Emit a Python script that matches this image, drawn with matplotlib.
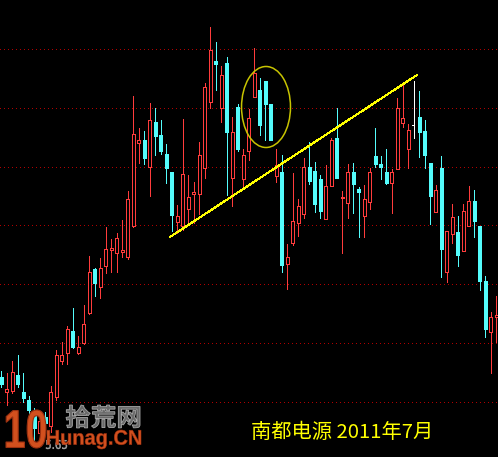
import matplotlib
matplotlib.use("Agg")
import matplotlib.pyplot as plt
from matplotlib.patches import Rectangle, Ellipse, PathPatch
from matplotlib.textpath import TextPath
from matplotlib.font_manager import FontProperties
from matplotlib.transforms import Affine2D

# ---- data (daily OHLC) ----
opens = [6.91, 6.61, 6.63, 6.95, 6.61, 6.45, 6.19, 5.79, 6.11, 5.93,
         6.51, 7.23, 7.39, 7.83, 7.39, 7.59, 8.19, 9.07, 8.71, 9.13,
         9.45, 9.39, 9.41, 9.31, 9.93, 11.59, 11.65, 11.11, 12.01, 11.75,
         11.37, 11.01, 10.01, 9.93, 10.27, 10.57, 10.57, 11.09, 12.41, 13.23,
         12.29, 13.19, 10.89, 12.31, 10.87, 11.43, 12.51, 12.65, 12.83, 12.37,
         10.93, 11.01, 9.17, 9.59, 9.99, 10.17, 11.11, 11.03, 10.87, 10.07,
         10.73, 11.69, 10.49, 10.39, 11.01, 10.67, 10.13, 10.41, 11.33, 11.17,
         11.01, 10.79, 11.07, 11.99, 11.47, 11.95, 12.11, 11.83, 11.19, 10.21,
         11.09, 9.01, 9.77, 9.81, 9.43, 9.93, 10.43, 9.93, 8.83, 7.81, 8.11]
highs = [7.03, 6.99, 7.23, 7.35, 6.99, 6.53, 6.29, 6.09, 6.21, 6.73,
         7.45, 7.61, 7.93, 8.29, 7.73, 8.35, 9.33, 9.09, 9.29, 9.91,
         9.67, 9.79, 10.05, 10.63, 12.53, 11.89, 11.83, 12.39, 12.29, 12.05,
         11.57, 11.01, 10.35, 12.07, 10.95, 10.81, 11.61, 12.79, 13.91, 13.61,
         13.13, 13.31, 12.11, 12.37, 11.47, 12.27, 13.49, 12.89, 12.83, 12.37,
         11.47, 11.35, 9.57, 10.99, 10.47, 11.29, 11.61, 11.21, 10.95, 11.15,
         11.69, 12.29, 10.63, 11.17, 11.19, 10.71, 10.75, 11.09, 11.89, 11.33,
         11.47, 11.07, 12.49, 12.81, 11.97, 12.83, 12.63, 12.05, 11.19, 10.75,
         11.33, 9.83, 10.37, 10.13, 10.37, 10.73, 10.65, 9.93, 8.93, 8.21, 8.53]
lows = [6.71, 6.35, 6.59, 6.71, 6.41, 6.19, 5.65, 5.71, 5.85, 5.81,
        6.45, 7.17, 7.17, 7.49, 7.37, 7.57, 8.17, 8.53, 8.49, 8.99,
        9.01, 9.01, 9.31, 9.27, 9.91, 11.19, 11.17, 10.53, 11.35, 11.37,
        10.79, 9.83, 9.79, 9.85, 9.99, 9.99, 10.17, 10.89, 12.29, 12.65,
        12.01, 10.55, 10.33, 11.43, 10.69, 11.25, 12.51, 11.75, 11.65, 11.65,
        10.81, 9.01, 8.67, 9.55, 9.73, 10.09, 10.77, 10.21, 10.09, 10.07,
        10.73, 10.89, 9.39, 10.09, 10.19, 9.71, 9.71, 10.27, 11.11, 10.87,
        10.77, 10.19, 11.07, 11.91, 11.09, 11.69, 11.31, 11.09, 9.97, 10.21,
        8.91, 8.81, 9.59, 9.13, 9.43, 9.93, 9.71, 8.65, 7.71, 6.99, 7.61]
closes = [6.77, 6.67, 7.01, 6.77, 6.49, 6.25, 5.89, 6.03, 5.99, 6.61,
          7.35, 7.35, 7.87, 7.51, 7.51, 7.97, 9.01, 8.79, 9.09, 9.47,
          9.49, 9.69, 9.45, 10.47, 11.77, 11.65, 11.29, 12.05, 11.73, 11.43,
          11.09, 10.15, 10.13, 10.97, 10.51, 10.61, 11.35, 12.71, 13.45, 13.17,
          12.95, 11.81, 11.81, 11.47, 11.35, 12.09, 12.99, 11.95, 12.37, 11.65,
          11.15, 9.15, 9.31, 10.03, 10.33, 11.11, 10.83, 10.37, 10.23, 10.73,
          11.65, 10.89, 10.51, 11.01, 10.77, 10.61, 10.47, 11.01, 11.17, 11.11,
          10.79, 11.01, 12.29, 12.09, 11.85, 11.95, 11.81, 11.35, 10.53, 10.65,
          9.47, 9.83, 10.11, 9.35, 10.23, 10.43, 10.03, 8.83, 7.87, 8.11, 8.15]

grid_levels = [13.47, 12.30, 11.12, 9.95, 8.77, 7.60, 6.42]
low_label = "5.65"
trend_start = (30.67, 9.71)   # (bar index, price)
trend_end = (75.58, 12.95)
circle_center = (48.13, 12.31)
circle_size = (8.9, 1.62)
title_text = "南都电源 2011年7月"

# ---- figure ----
W, H = 498, 457
fig = plt.figure(figsize=(W / 100, H / 100), dpi=100, facecolor="black")
ax = fig.add_axes([0, 0, 1, 1])
ax.set_facecolor("black")
ax.set_xlim(-0.236, 90.31)
ax.set_ylim(5.31, 14.45)
ax.axis("off")

px = 0.72  # one pixel in points
for g in grid_levels:
    ax.axhline(g, color="#b00000", lw=px, linestyle=(0, (1, 4)), zorder=1,
               antialiased=False)

RED = "#ff3c3c"
CYAN = "#54fcfc"
for i, (o, h, l, c) in enumerate(zip(opens, highs, lows, closes)):
    if c > o:
        ax.plot([i, i], [l, h], color=RED, lw=px, zorder=3, solid_capstyle="butt",
                antialiased=False)
        ax.add_patch(Rectangle((i - 0.3, o), 0.6, c - o, facecolor="black",
                               edgecolor=RED, lw=px, zorder=4, antialiased=False))
    elif c < o:
        ax.plot([i, i], [l, h], color=CYAN, lw=px, zorder=3, solid_capstyle="butt",
                antialiased=False)
        ax.add_patch(Rectangle((i - 0.3, c), 0.6, o - c, facecolor=CYAN,
                               edgecolor=CYAN, lw=px, zorder=4, antialiased=False))
    else:
        ax.plot([i, i], [l, h], color="white", lw=px, zorder=3, solid_capstyle="butt",
                antialiased=False)
        ax.plot([i - 0.3, i], [o, o], color="white", lw=px, zorder=4, antialiased=False)

# trend line and ellipse
ax.plot([trend_start[0], trend_end[0]], [trend_start[1], trend_end[1]],
        color="#ffff00", lw=px, zorder=5, antialiased=False)
ax.add_patch(Ellipse(circle_center, circle_size[0], circle_size[1], fill=False,
                     edgecolor="#c8c400", lw=1.1, zorder=5))

# title text
fig.text(251 / W, (H - 438) / H, title_text, color="#ffff00", fontsize=14.6,
         family=["Noto Sans CJK SC", "DejaVu Sans"], va="baseline", ha="left",
         zorder=10)

# watermark helper (pixel box fitted text paths)
pix2fig = Affine2D().scale(1.0 / W, 1.0 / H) + fig.transFigure


def boxed_text(s, x0, y_top, x1, y_bot, face, edge, family, weight="normal", z=8, lw=0.6):
    fp = FontProperties(family=family, weight=weight)
    tp = TextPath((0, 0), s, size=100, prop=fp)
    bb = tp.get_extents()
    sx = (x1 - x0) / bb.width
    sy = (y_bot - y_top) / bb.height
    tr = Affine2D().translate(-bb.x0, -bb.y0).scale(sx, sy).translate(x0, H - y_bot)
    patch = PathPatch(tp, transform=tr + pix2fig, facecolor=face, edgecolor=edge,
                      lw=lw, zorder=z)
    fig.add_artist(patch)


boxed_text(low_label, 46, 440, 67, 449, "#909090", "#c0c0c0", "DejaVu Sans", z=6, lw=0.3)
boxed_text("拾荒网", 66, 405, 140, 428, "#6a6a6a", "#a8a8a8", "Noto Sans CJK SC", "bold", z=7)
boxed_text("Hunag.CN", 47, 430, 141, 449, "#d2501e", "#a03010", "Liberation Sans", "bold", z=8, lw=0.4)
boxed_text("10", 6, 410, 46, 448, "#d2501e", "#9a3010", "Liberation Sans", "bold", z=9, lw=0.8)

fig.savefig("out.png", dpi=100, facecolor="black")
